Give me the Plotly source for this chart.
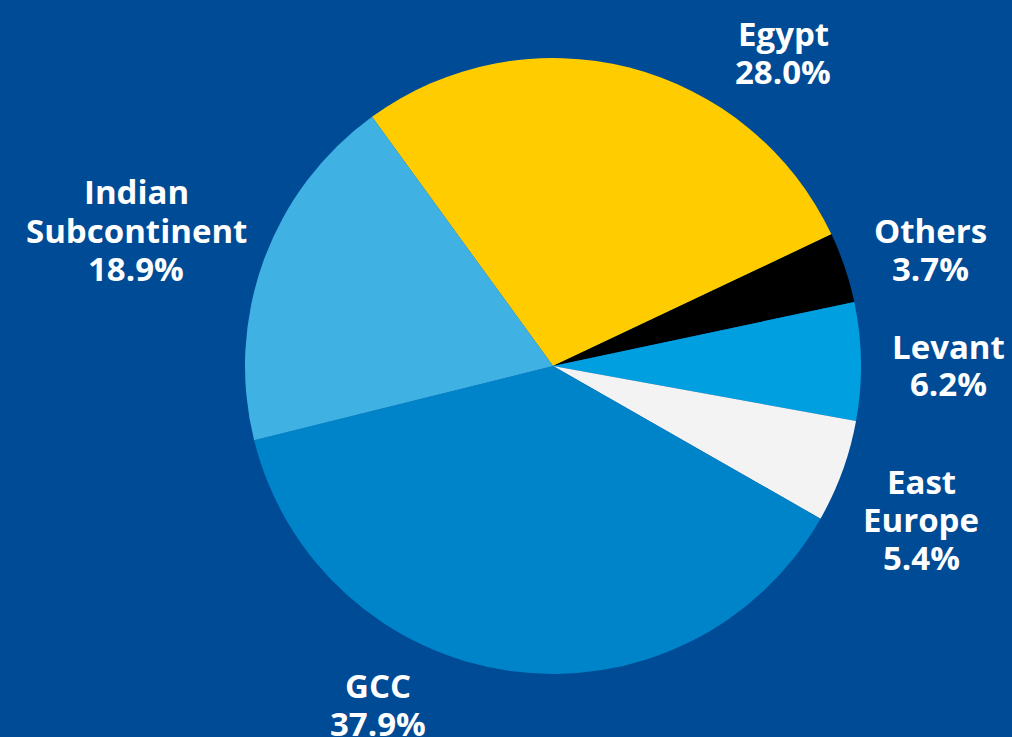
import plotly.graph_objects as go

# ---- data ----
regions = ["Egypt", "Others", "Levant", "East Europe", "GCC", "Indian Subcontinent"]
shares = [28.0, 3.7, 6.2, 5.4, 37.9, 18.9]
label_lines = [["Egypt"], ["Others"], ["Levant"], ["East", "Europe"], ["GCC"], ["Indian", "Subcontinent"]]

# ---- style / layout ----
colors = ["#FFCC00", "#000000", "#009FDF", "#F3F3F3", "#0084C9", "#3FB2E3"]
bg = "#004B96"
W, H = 1012, 737
# label block anchors (pixel x center, pixel y of first line center)
label_pos = [(783, 33), (930, 230), (948, 346), (921, 481), (378, 685), (136, 192)]
line_gap = 38
font_size = 33

fig = go.Figure(go.Pie(
    labels=regions,
    values=shares,
    sort=False,
    direction="clockwise",
    rotation=-36,
    marker=dict(colors=colors, line=dict(width=0)),
    textinfo="none",
    hoverinfo="label+percent",
    showlegend=False,
    domain=dict(x=[245 / W, 861 / W], y=[(H - 674) / H, (H - 58) / H]),
))

annotations = []
for lines, share, (px, py) in zip(label_lines, shares, label_pos):
    all_lines = lines + [f"{share:.1f}%"]
    for i, txt in enumerate(all_lines):
        annotations.append(dict(
            x=px / W, y=1 - (py + i * line_gap) / H,
            xref="paper", yref="paper",
            text=txt, showarrow=False,
            xanchor="center", yanchor="middle",
            font=dict(family="Open Sans", size=font_size, color="white", weight="bold"),
        ))

fig.update_layout(
    width=W, height=H,
    margin=dict(l=0, r=0, t=0, b=0),
    paper_bgcolor=bg, plot_bgcolor=bg,
    annotations=annotations,
)

fig.write_html("out.html")
